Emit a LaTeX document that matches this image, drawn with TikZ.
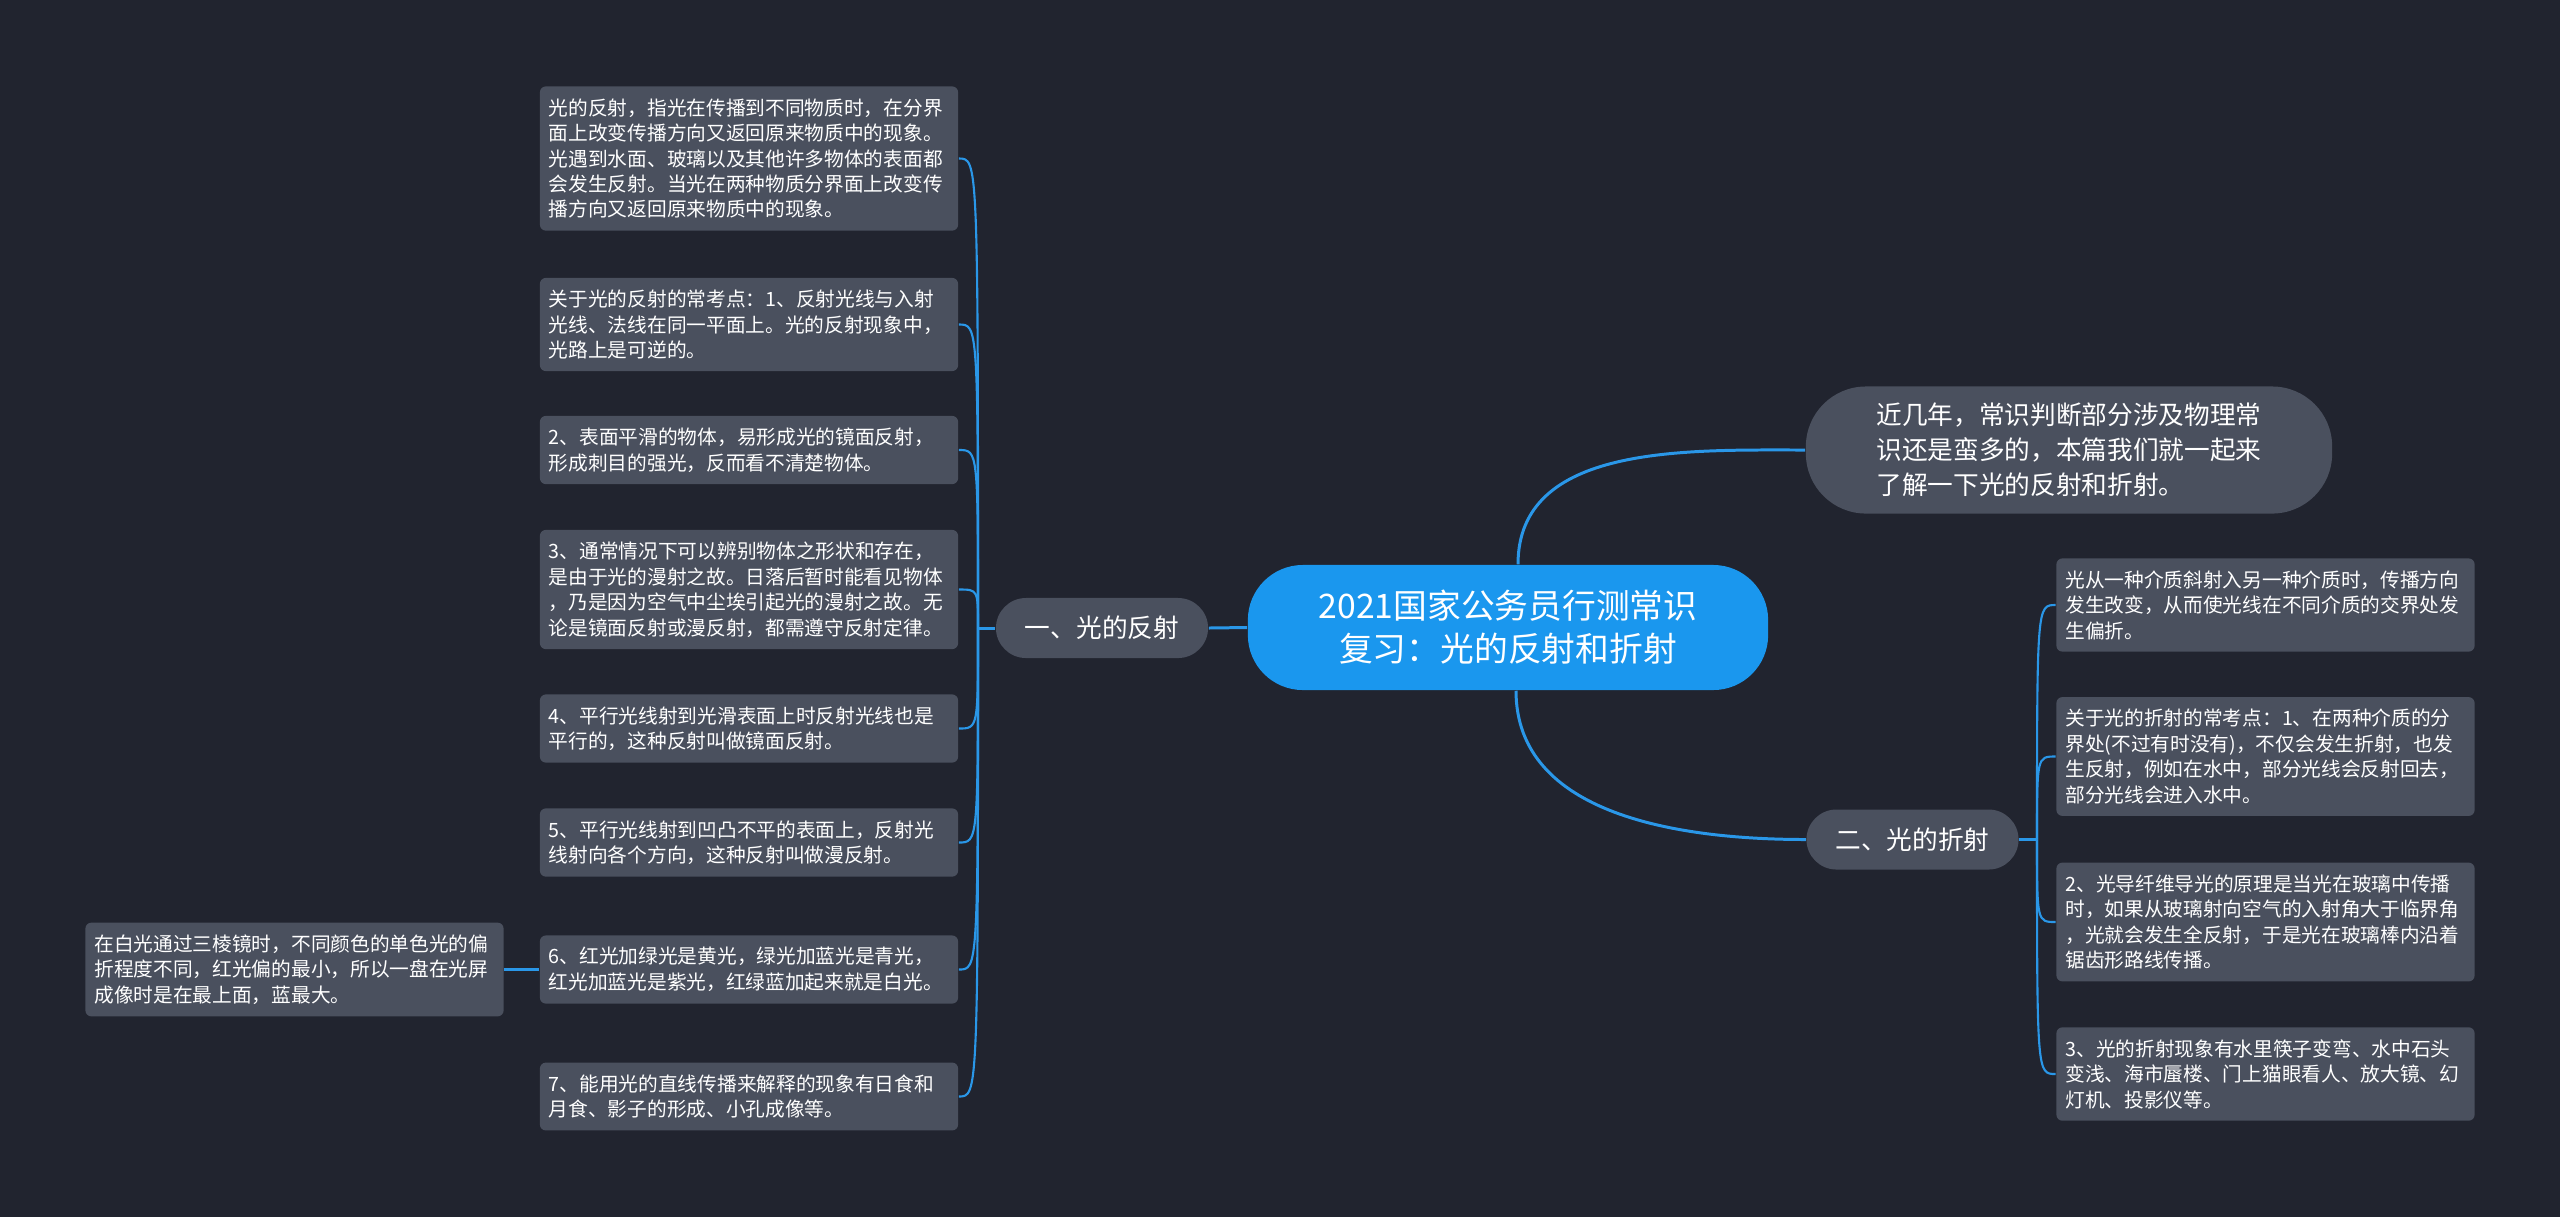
\documentclass[tikz,border=0pt]{standalone}
\usepackage{fontspec}
\usepackage{xcolor}
\usepackage{tikz}
\newfontfamily\cjk{Noto Sans CJK SC}

\definecolor{bgnavy}{HTML}{21242F}
\definecolor{boxgray}{HTML}{4A505E}
\definecolor{rootblue}{HTML}{1A97EE}
\definecolor{linkblue}{HTML}{2A97E8}

\tikzset{
  root/.style={fill=rootblue, text=white, rounded corners=0.55cm, minimum width=5.2cm,
    minimum height=1.25cm, align=center, font=\cjk\fontsize{9.6}{12.2}\selectfont},
  branch/.style={fill=boxgray, text=white, rounded corners=0.3cm, minimum width=2.12cm,
    minimum height=0.6cm, font=\cjk\fontsize{7.3}{9}\selectfont},
  intro/.style={fill=boxgray, text=white, rounded corners=0.6cm, minimum width=5.26cm,
    minimum height=1.27cm, align=left, font=\cjk\fontsize{7.3}{10}\selectfont},
  leaf/.style={fill=boxgray, text=white, rounded corners=0.06cm, text width=4cm,
    inner xsep=0.09cm, inner ysep=0.12cm, align=left, font=\cjk\fontsize{5.6}{7.25}\selectfont},
  mainline/.style={draw=linkblue, line width=0.85pt},
  leafline/.style={draw=linkblue, line width=0.6pt}
}

\begin{document}
\begin{tikzpicture}[x=0.01cm, y=-0.01cm]
  \fill[bgnavy] (0,0) rectangle (2560,1217);
  \useasboundingbox (0,0) rectangle (2560,1217);

  % Centre and first level
  \node[root] (root) at (1508,627.5) {2021国家公务员行测常识\\复习：光的反射和折射};
  \node[intro] (intro) at (2069,450) {近几年，常识判断部分涉及物理常\\识还是蛮多的，本篇我们就一起来\\了解一下光的反射和折射。};
  \node[branch] (refl) at (1102,628) {一、光的反射};
  \node[branch] (refr) at (1912.5,839.5) {二、光的折射};

  % Reflection leaves
  \node[leaf] (l1) at (749,158.5) {光的反射，指光在传播到不同物质时，在分界\\面上改变传播方向又返回原来物质中的现象。\\光遇到水面、玻璃以及其他许多物体的表面都\\会发生反射。当光在两种物质分界面上改变传\\播方向又返回原来物质中的现象。};
  \node[leaf] (l2) at (749,324.5) {关于光的反射的常考点：1、反射光线与入射\\光线、法线在同一平面上。光的反射现象中，\\光路上是可逆的。};
  \node[leaf] (l3) at (749,450) {2、表面平滑的物体，易形成光的镜面反射，\\形成刺目的强光，反而看不清楚物体。};
  \node[leaf] (l4) at (749,589.5) {3、通常情况下可以辨别物体之形状和存在，\\是由于光的漫射之故。日落后暂时能看见物体\\，乃是因为空气中尘埃引起光的漫射之故。无\\论是镜面反射或漫反射，都需遵守反射定律。};
  \node[leaf] (l5) at (749,728.5) {4、平行光线射到光滑表面上时反射光线也是\\平行的，这种反射叫做镜面反射。};
  \node[leaf] (l6) at (749,842.5) {5、平行光线射到凹凸不平的表面上，反射光\\线射向各个方向，这种反射叫做漫反射。};
  \node[leaf] (l7) at (749,969.5) {6、红光加绿光是黄光，绿光加蓝光是青光，\\红光加蓝光是紫光，红绿蓝加起来就是白光。};
  \node[leaf] (l8) at (749,1096.5) {7、能用光的直线传播来解释的现象有日食和\\月食、影子的形成、小孔成像等。};
  \node[leaf] (prism) at (294.5,969.5) {在白光通过三棱镜时，不同颜色的单色光的偏\\折程度不同，红光偏的最小，所以一盘在光屏\\成像时是在最上面，蓝最大。};

  % Refraction leaves
  \node[leaf] (r1) at (2265.5,605) {光从一种介质斜射入另一种介质时，传播方向\\发生改变，从而使光线在不同介质的交界处发\\生偏折。};
  \node[leaf] (r2) at (2265.5,756.5) {关于光的折射的常考点：1、在两种介质的分\\界处(不过有时没有)，不仅会发生折射，也发\\生反射，例如在水中，部分光线会反射回去，\\部分光线会进入水中。};
  \node[leaf] (r3) at (2265.5,922) {2、光导纤维导光的原理是当光在玻璃中传播\\时，如果从玻璃射向空气的入射角大于临界角\\，光就会发生全反射，于是光在玻璃棒内沿着\\锯齿形路线传播。};
  \node[leaf] (r4) at (2265.5,1074) {3、光的折射现象有水里筷子变弯、水中石头\\变浅、海市蜃楼、门上猫眼看人、放大镜、幻\\灯机、投影仪等。};

  % Junctions
  \coordinate (jl) at (978,628);
  \coordinate (jr) at (2037,839.5);

  % Connectors
  \draw[mainline] ([xshift=0.1cm]root.north) .. controls +(0,-120) and +(-120,0) .. (intro.west);
  \draw[mainline] ([xshift=0.08cm]root.south) .. controls +(0,125) and +(-125,0) .. (refr.west);
  \draw[mainline] (root.west) -- (refl.east);
  \draw[mainline] (refl.west) -- (jl);
  \draw[mainline] (refr.east) -- (jr);
  \foreach \i in {1,...,8}
    \draw[leafline] (jl) .. controls (jl |- l\i.east) .. (l\i.east);
  \foreach \i in {1,...,4}
    \draw[leafline] (jr) .. controls (jr |- r\i.west) .. (r\i.west);
  \draw[mainline] (l7.west) -- (prism.east);
\end{tikzpicture}
\end{document}
